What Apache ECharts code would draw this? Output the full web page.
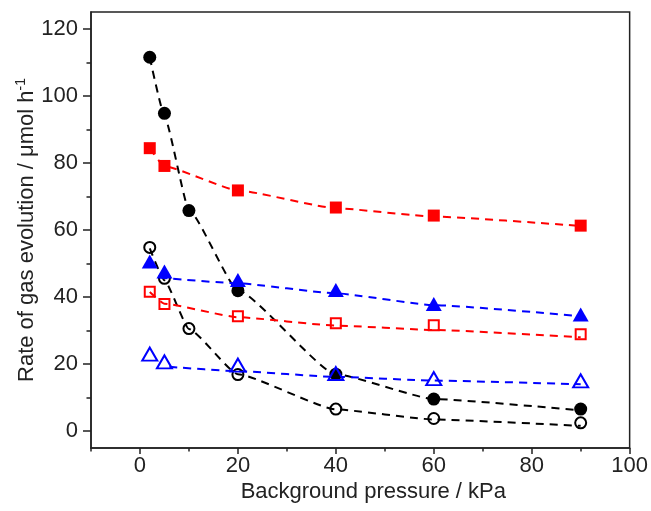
<!DOCTYPE html>
<html>
<head>
<meta charset="utf-8">
<title>Rate of gas evolution</title>
<script src="https://cdn.jsdelivr.net/npm/echarts@6/dist/echarts.min.js"></script>
<style>
    html, body {margin: 0; padding: 0; background: #fff;}
    #gasEvolutionChart {width: 651px; height: 511px;}
</style>
</head>
<body>
<div id="gasEvolutionChart"></div>
<script>
// 测量数据
var pressureAll = [2, 5, 10, 20, 40, 60, 90];
var pressureSix = [2, 5, 20, 40, 60, 90];
var blackFilled = [111.5, 94.8, 65.8, 41.9, 17.0, 9.6, 6.6];
var blackOpen = [54.8, 45.6, 30.6, 16.9, 6.6, 3.8, 2.5];
var redFilled = [84.4, 79.1, 71.8, 66.7, 64.3, 61.3];
var redOpen = [41.6, 37.9, 34.3, 32.2, 31.6, 28.9];
var blueFilled = [50.6, 47.6, 45.1, 42.1, 37.9, 34.8];
var blueOpen = [23.0, 20.7, 19.7, 17.2, 15.7, 15.0];

// 拟合曲线
var fitBlackFilledX = [2, 5, 10, 20, 40, 60, 90];
var fitBlackFilled = [111.5, 94.0, 66.0, 42.0, 17.0, 9.6, 6.2];
var fitBlackOpenX = [2, 5, 10, 20, 40, 60, 90];
var fitBlackOpen = [54.5, 45.0, 30.5, 17.0, 6.5, 3.5, 1.6];
var fitRedFilledX = [2, 5, 20, 40, 60, 90];
var fitRedFilled = [84.3, 79.0, 71.8, 66.5, 64.0, 61.2];
var fitRedOpenX = [2, 5, 20, 40, 60, 90];
var fitRedOpen = [41.5, 38.0, 34.0, 31.5, 30.2, 28.0];
var fitBlueFilledX = [4, 20, 40, 60, 90];
var fitBlueFilled = [45.8, 44.1, 41.1, 37.6, 34.3];
var fitBlueOpenX = [6, 20, 40, 60, 90];
var fitBlueOpen = [19.2, 17.9, 16.2, 15.1, 14.0];

// 刻度
var xMajorTicks = [0, 20, 40, 60, 80, 100];
var xMinorTicks = [-10, 10, 30, 50, 70, 90];
var yMajorTicks = [0, 20, 40, 60, 80, 100, 120];
var yMinorTicks = [10, 30, 50, 70, 90, 110];

function pairs(xs, ys) {
    return xs.map(function (x, i) {
        return [x, ys[i]];
    });
}

function fitLine(xs, ys, color) {
    return {
        type: 'line',
        data: pairs(xs, ys),
        symbol: 'none',
        smooth: 0.15,
        smoothMonotone: 'x',
        z: 1,
        lineStyle: {color: color, width: 2, type: [8, 6]}
    };
}

function markers(xs, ys, symbol, size, color, filled) {
    return {
        type: 'scatter',
        data: pairs(xs, ys),
        symbol: symbol,
        symbolSize: size,
        z: 3,
        itemStyle: filled ? {color: color, opacity: 1} : {
            color: 'rgba(0,0,0,0)',
            borderColor: color,
            borderWidth: 2,
            opacity: 1
        }
    };
}

function valueAxis(min, max, ticks, len, major, extra) {
    var axis = {
        type: 'value',
        min: min,
        max: max,
        splitLine: {show: false},
        axisLine: {show: major, onZero: false, lineStyle: {color: '#222', width: 1.5}},
        axisTick: {show: true, inside: false, length: len, customValues: ticks, lineStyle: {color: '#222', width: 1.5}},
        axisLabel: {show: false}
    };
    for (var k in extra) {
        axis[k] = extra[k];
    }
    return axis;
}

function gasEvolutionChart() {
    var myChart = echarts.init(document.getElementById('gasEvolutionChart'), null, {renderer: 'canvas'});
    var font = 'Liberation Sans';
    var option = {
        animation: false,
        backgroundColor: '#fff',
        grid: {left: 91, right: 20, top: 12, bottom: 63, show: true, borderColor: '#222', borderWidth: 1.5, backgroundColor: 'transparent'},
        xAxis: [
            valueAxis(-10, 100, xMajorTicks, 6, true, {
                position: 'bottom',
                name: 'Background pressure / kPa',
                nameLocation: 'middle',
                nameGap: 33,
                nameMoveOverlap: false,
                nameTextStyle: {color: '#222', fontSize: 22, fontFamily: font, padding: [0, 0, 0, 26]},
                axisLabel: {customValues: xMajorTicks, color: '#222', fontSize: 22, fontFamily: font, margin: 7}
            }),
            valueAxis(-10, 100, xMinorTicks, 3.5, false, {position: 'bottom'})
        ],
        yAxis: [
            valueAxis(-5, 125, yMajorTicks, 8, true, {
                position: 'left',
                name: 'Rate of gas evolution / μmol h{sup|-1}',
                nameLocation: 'middle',
                nameGap: 51,
                nameMoveOverlap: false,
                nameRotate: 90,
                nameTextStyle: {
                    color: '#222', fontSize: 22, fontFamily: font,
                    rich: {sup: {fontSize: 14, fontFamily: font, color: '#222', verticalAlign: 'top', padding: [0, 0, 12, 0]}}
                },
                axisLabel: {customValues: yMajorTicks, color: '#222', fontSize: 22, fontFamily: font, margin: 13}
            }),
            valueAxis(-5, 125, yMinorTicks, 4.5, false, {position: 'left'})
        ],
        series: [
            fitLine(fitBlackFilledX, fitBlackFilled, '#000'),
            fitLine(fitBlackOpenX, fitBlackOpen, '#000'),
            fitLine(fitRedFilledX, fitRedFilled, '#ff0000'),
            fitLine(fitRedOpenX, fitRedOpen, '#ff0000'),
            fitLine(fitBlueFilledX, fitBlueFilled, '#0000ff'),
            fitLine(fitBlueOpenX, fitBlueOpen, '#0000ff'),
            markers(pressureAll, blackFilled, 'circle', 13, '#000', true),
            markers(pressureAll, blackOpen, 'circle', 11, '#000', false),
            markers(pressureSix, redFilled, 'rect', 12, '#ff0000', true),
            markers(pressureSix, redOpen, 'rect', 10, '#ff0000', false),
            markers(pressureSix, blueFilled, 'triangle', [16, 14], '#0000ff', true),
            markers(pressureSix, blueOpen, 'triangle', [15, 13], '#0000ff', false)
        ]
    };
    if (option && typeof option === "object") {
        myChart.setOption(option, true);
    }
    window.addEventListener('resize', function () {
        myChart.resize();
    });
}

gasEvolutionChart();
</script>
</body>
</html>
